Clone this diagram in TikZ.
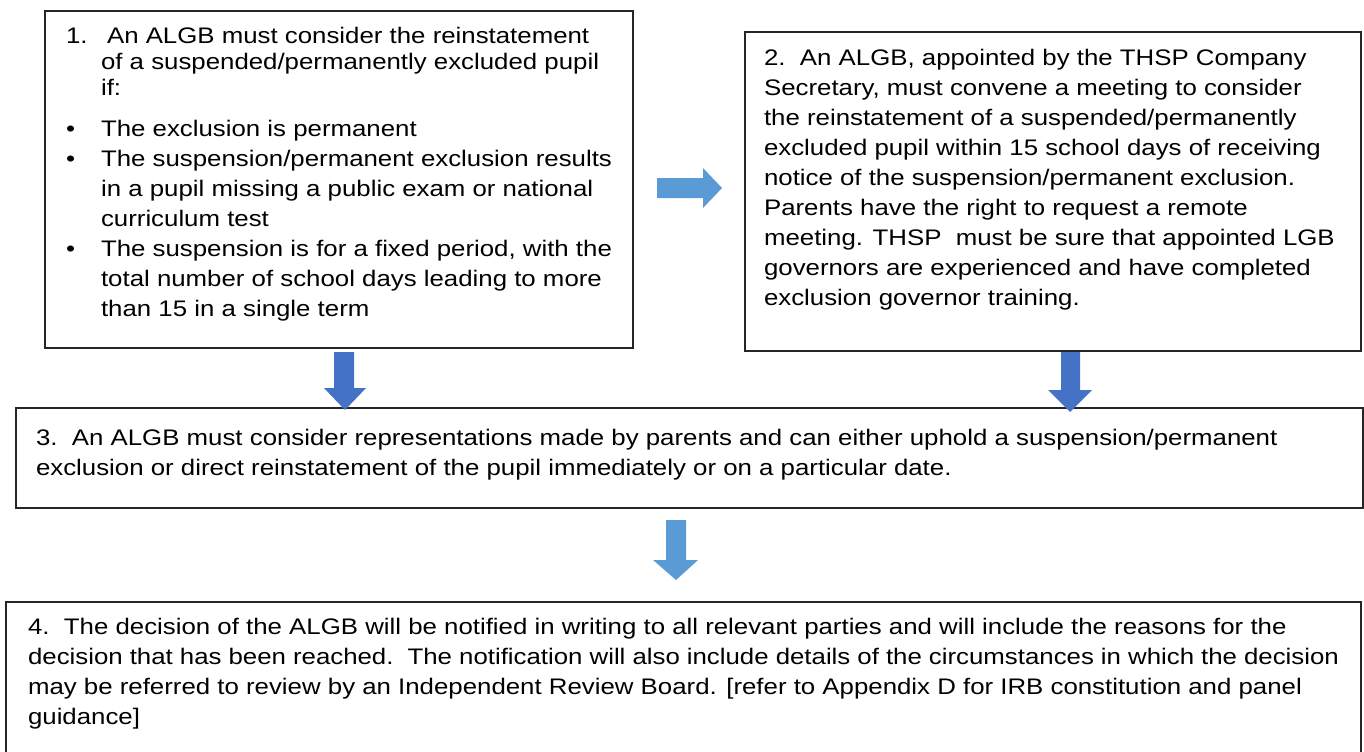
\documentclass[tikz,border=0pt]{standalone}
\usepackage{fontspec}
\setmainfont{Liberation Sans}[FakeStretch=1.148]
\usetikzlibrary{calc}

\newlength{\px}
\setlength{\px}{0.02cm}
% contenu d'un cadre : texte aligné en haut
\newcommand{\contenu}[3]{\begin{minipage}[t][#2][t]{#1}\raggedright #3\end{minipage}}
\newcommand{\puce}[1]{\makebox[35\px][l]{#1}}

\definecolor{bleuclair}{HTML}{5B9BD5}
\definecolor{bleufonce}{HTML}{4472C4}

\tikzset{
  cadre/.style={draw=black!85, line width=1.2pt, anchor=north west, inner xsep=#1\px, font=\fontsize{12.8}{17.07}\selectfont},
  cadre/.default=20,
}

\begin{document}
\begin{tikzpicture}[x=0.02cm, y=-0.02cm]

\clip (0,0) rectangle (1364,751);

% Cadre 1
\node[cadre=21, inner ysep=16\px] (b1) at (44,10) {\contenu{546\px}{305\px}{%
\puce{1.}\hspace{6\px}An ALGB must consider the reinstatement\\[-2.2pt]
\puce{}of a suspended/permanently excluded pupil\\[-2.2pt]
\puce{}if:\\[6pt]
\puce{\textbullet}The exclusion is permanent\\
\puce{\textbullet}The suspension/permanent exclusion results\\
\puce{}in a pupil missing a public exam or national\\
\puce{}curriculum test\\
\puce{\textbullet}The suspension is for a fixed period, with the\\
\puce{}total number of school days leading to more\\
\puce{}than 15 in a single term}};

% Cadre 2
\node[cadre=19, inner ysep=17\px] (b2) at (744,31) {\contenu{578\px}{285\px}{%
2.\ \ An ALGB, appointed by the THSP Company\\
Secretary, must convene a meeting to consider\\
the reinstatement of a suspended/permanently\\
excluded pupil within 15 school days of receiving\\
notice of the suspension/permanent exclusion.\\
Parents have the right to request a remote\\
meeting. THSP\ \ must be sure that appointed LGB\\
governors are experienced and have completed\\
exclusion governor training.}};

% Cadre 3
\node[cadre=20, inner ysep=21\px] (b3) at (15,407) {\contenu{1307\px}{58\px}{%
3.\ \ An ALGB must consider representations made by parents and can either uphold a suspension/permanent\\
exclusion or direct reinstatement of the pupil immediately or on a particular date.}};

% Cadre 4 (coupé en bas)
\node[cadre=22, inner ysep=16\px] (b4) at (5,601) {\contenu{1311\px}{170\px}{%
4.\ \ The decision of the ALGB will be notified in writing to all relevant parties and will include the reasons for the\\
decision that has been reached.\ \ The notification will also include details of the circumstances in which the decision\\
may be referred to review by an Independent Review Board. [refer to Appendix D for IRB constitution and panel\\
guidance]}};

% Flèches
\fill[bleuclair] (657,178) -- (703,178) -- (703,168) -- (722,188) -- (703,208) -- (703,198) -- (657,198) -- cycle;
\fill[bleufonce] (334,352) -- (354,352) -- (354,388) -- (366,388) -- (345,410) -- (324,388) -- (334,388) -- cycle;
\fill[bleufonce] (1061,352) -- (1080,352) -- (1080,390) -- (1092,390) -- (1070,412) -- (1048,390) -- (1061,390) -- cycle;
\fill[bleuclair] (666,520) -- (686,520) -- (686,560) -- (698,560) -- (676,580) -- (653,560) -- (666,560) -- cycle;

\end{tikzpicture}
\end{document}
